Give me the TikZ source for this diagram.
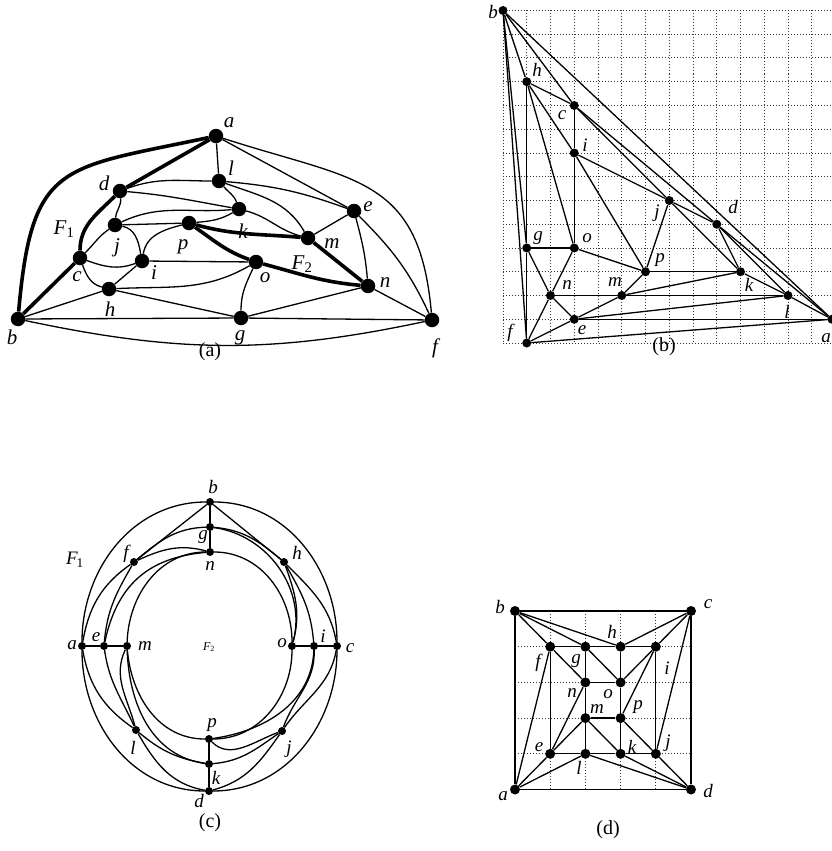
\documentclass[tikz,border=0pt]{standalone}
\usepackage{fontspec}
\setmainfont{Liberation Serif}
\begin{document}
\begin{tikzpicture}[x=1pt,y=1pt,
  bigdot/.style={circle,fill=black,inner sep=0pt,minimum size=14.5pt},
  dotb/.style={circle,fill=black,inner sep=0pt,minimum size=9pt},
  dotc/.style={circle,fill=black,inner sep=0pt,minimum size=8pt},
  dotd/.style={circle,fill=black,inner sep=0pt,minimum size=10pt},
  lbl/.style={font=\fontsize{19}{19}\selectfont\itshape,inner sep=0pt},
  biglbl/.style={font=\fontsize{21}{21}\selectfont\itshape,inner sep=0pt},
  smalllbl/.style={font=\fontsize{12}{12}\selectfont\itshape,inner sep=0pt},
  captext/.style={font=\fontsize{20}{20}\selectfont,inner sep=0pt},
  plainedge/.style={line width=1.3pt},
  thickedge/.style={line width=3.6pt},
  gridline/.style={dotted,line width=1pt,black!80}
]
\useasboundingbox (0,0) rectangle (832,-851);

%%%%%%%%%%%%%%%% panel (a)
\node[bigdot] (Aa) at (216,-136) {};
\node[bigdot] (Al) at (219,-181) {};
\node[bigdot] (Ad) at (120,-191) {};
\node[bigdot] (Ak) at (239,-209) {};
\node[bigdot] (Ae) at (354,-211) {};
\node[bigdot] (Aj) at (115,-225) {};
\node[bigdot] (Ap) at (189,-223) {};
\node[bigdot] (Am) at (308,-238) {};
\node[bigdot] (Ac) at (80,-258) {};
\node[bigdot] (Ai) at (142,-261) {};
\node[bigdot] (Ao) at (256,-262) {};
\node[bigdot] (Ah) at (109,-289) {};
\node[bigdot] (An) at (368,-286) {};
\node[bigdot] (Ab) at (18,-319) {};
\node[bigdot] (Ag) at (241,-318) {};
\node[bigdot] (Af) at (432,-320) {};

\draw[thickedge] (Aa) to[out=192,in=85,looseness=1.5] (Ab);
\draw[thickedge] (Aa) -- (Ad);
\draw[thickedge] (Ad) to[out=225,in=90] (Ac);
\draw[thickedge] (Ac) -- (Ab);
\draw[thickedge] (Ap) to[out=-15,in=175] (Am);
\draw[thickedge] (Am) -- (An);
\draw[thickedge] (Ap) to[out=-35,in=160] (Ao);
\draw[thickedge] (Ao) to[out=-15,in=175] (An);

\draw[plainedge] (Aa) -- (Al);
\draw[plainedge] (Aa) -- (Ae);
\draw[plainedge] (Aa) to[out=-18,in=95,looseness=1.3] (Af);
\draw[plainedge] (Ad) to[out=20,in=180] (Al);
\draw[plainedge] (Ad) to[out=-5,in=170] (Ak);
\draw[plainedge] (Ad) to[out=-85,in=85] (Aj);
\draw[plainedge] (Aj) to[out=25,in=185] (Ak);
\draw[plainedge] (Ap) to[out=5,in=210] (Ak);
\draw[plainedge] (Aj) -- (Ap);
\draw[plainedge] (Al) to[out=-50,in=110] (Ak);
\draw[plainedge] (Al) to[out=-5,in=160] (Ae);
\draw[plainedge] (Al) to[out=-20,in=120] (Am);
\draw[plainedge] (Ak) to[out=-15,in=165] (Am);
\draw[plainedge] (Am) -- (Ae);
\draw[plainedge] (Ae) to[out=-75,in=95] (An);
\draw[plainedge] (Ae) to[out=-45,in=115] (Af);
\draw[plainedge] (Ai) -- (Ao);
\draw[plainedge] (Ai) to[out=80,in=195] (Ap);
\draw[plainedge] (Ah) -- (Ai);
\draw[plainedge] (Ac) to[out=-20,in=200] (Ai);
\draw[plainedge] (Ac) to[out=45,in=215] (Aj);
\draw[plainedge] (Ac) to[out=-70,in=165] (Ah);
\draw[plainedge] (Aj) to[out=-10,in=100] (Ai);
\draw[plainedge] (Ah) to[out=3,in=210] (Ao);
\draw[plainedge] (Ah) -- (Ag);
\draw[plainedge] (Ah) -- (Ab);
\draw[plainedge] (Ao) to[out=-115,in=90] (Ag);
\draw[plainedge] (Ag) -- (An);
\draw[plainedge] (An) -- (Af);
\draw[plainedge] (Ag) -- (Af);
\draw[plainedge] (Ab) -- (Ag);
\draw[plainedge] (Ab) to[out=-12,in=192] (Af);

\node[biglbl] (LAa) at (229,-123) {a};
\node[biglbl] (LAl) at (231,-168) {l};
\node[biglbl] (LAd) at (104,-183) {d};
\node[biglbl] (LAe) at (368,-207) {e};
\node[biglbl] (LAk) at (243,-231) {k};
\node[biglbl] (LAj) at (117,-248) {j};
\node[biglbl] (LAp) at (183,-247) {p};
\node[biglbl] (LAm) at (332,-244) {m};
\node[biglbl] (LAc) at (77,-277) {c};
\node[biglbl] (LAi) at (154,-273) {i};
\node[biglbl] (LAo) at (265,-278) {o};
\node[biglbl] (LAh) at (110,-309) {h};
\node[biglbl] (LAn) at (385,-283) {n};
\node[biglbl] (LAb) at (12,-337) {b};
\node[biglbl] (LAg) at (240,-338) {g};
\node[biglbl] (LAf) at (435,-348) {f};
\node[biglbl] (LAF1) at (64,-229) {F\textup{\textsubscript{1}}};
\node[biglbl] (LAF2) at (302,-264) {F\textup{\textsubscript{2}}};
\node[captext] (CapA) at (210,-352) {(a)};

%%%%%%%%%%%%%%%% panel (b)
\foreach \i in {0,...,14} {
  \draw[gridline] ({503+23.75*\i},-10.5) -- ({503+23.75*\i},-343);
  \draw[gridline] (503,{-10.5-23.75*\i}) -- (836,{-10.5-23.75*\i});
}
\node[dotb] (Bb) at ({503+23.75*0},{-10.5-23.75*0}) {};
\node[dotb] (Bh) at ({503+23.75*1},{-10.5-23.75*3}) {};
\node[dotb] (Bc) at ({503+23.75*3},{-10.5-23.75*4}) {};
\node[dotb] (Bi) at ({503+23.75*3},{-10.5-23.75*6}) {};
\node[dotb] (Bj) at ({503+23.75*7},{-10.5-23.75*8}) {};
\node[dotb] (Bd) at ({503+23.75*9},{-10.5-23.75*9}) {};
\node[dotb] (Bg) at ({503+23.75*1},{-10.5-23.75*10}) {};
\node[dotb] (Bo) at ({503+23.75*3},{-10.5-23.75*10}) {};
\node[dotb] (Bp) at ({503+23.75*6},{-10.5-23.75*11}) {};
\node[dotb] (Bk) at ({503+23.75*10},{-10.5-23.75*11}) {};
\node[dotb] (Bn) at ({503+23.75*2},{-10.5-23.75*12}) {};
\node[dotb] (Bm) at ({503+23.75*5},{-10.5-23.75*12}) {};
\node[dotb] (Bl) at ({503+23.75*12},{-10.5-23.75*12}) {};
\node[dotb] (Be) at ({503+23.75*3},{-10.5-23.75*13}) {};
\node[dotb] (Ba) at (832,{-10.5-23.75*13}) {};
\node[dotb] (Bf) at ({503+23.75*1},{-10.5-23.75*14}) {};

\foreach \u/\v in {Bb/Ba,Bb/Bh,Bb/Bc,Bb/Bg,Bb/Bf,
  Ba/Bd,Ba/Bl,Ba/Be,Ba/Bf,
  Bd/Bc,Bd/Bl,Bd/Bk,Bd/Bj,
  Bl/Bk,Bl/Be,Bl/Bm,
  Bk/Bj,Bk/Bp,Bk/Bm,
  Be/Bm,Be/Bn,Be/Bf,
  Bj/Bp,Bj/Bc,Bj/Bi,
  Bp/Bm,Bp/Bo,Bp/Bi,
  Bm/Bn,Bc/Bi,Bc/Bh,Bi/Bo,Bi/Bh,
  Bo/Bn,Bo/Bh,Bo/Bg,Bh/Bg,Bn/Bg,Bn/Bf,Bg/Bf}
  \draw[plainedge] (\u) -- (\v);

\node[lbl] (LBb) at (493,-12) {b};
\node[lbl] (LBh) at (537,-70) {h};
\node[lbl] (LBc) at (562,-115) {c};
\node[lbl] (LBi) at (585,-145) {i};
\node[lbl] (LBj) at (657,-213) {j};
\node[lbl] (LBd) at (733,-207) {d};
\node[lbl] (LBg) at (538,-238) {g};
\node[lbl] (LBo) at (587,-238) {o};
\node[lbl] (LBn) at (567,-285) {n};
\node[lbl] (LBm) at (615,-282) {m};
\node[lbl] (LBp) at (660,-260) {p};
\node[lbl] (LBk) at (749,-285) {k};
\node[lbl] (LBl) at (787,-312) {l};
\node[lbl] (LBe) at (582,-330) {e};
\node[lbl] (LBf) at (510,-333) {f};
\node[lbl] (LBa) at (826,-338) {a};
\node[captext] (CapB) at (664,-347) {(b)};

%%%%%%%%%%%%%%%% panel (c)
\node[dotc] (Cb) at (210,-502) {};
\node[dotc] (Cg) at (210,-527) {};
\node[dotc] (Cn) at (210,-552) {};
\node[dotc] (Cf) at (134,-562) {};
\node[dotc] (Ch) at (284,-562) {};
\node[dotc] (Ca) at (82,-646) {};
\node[dotc] (Ce) at (104,-646) {};
\node[dotc] (Cm) at (127,-646) {};
\node[dotc] (Co) at (292,-646) {};
\node[dotc] (Ci) at (314,-646) {};
\node[dotc] (Cc) at (337,-646) {};
\node[dotc] (Cl) at (136,-730) {};
\node[dotc] (Cj) at (282,-731) {};
\node[dotc] (Cp) at (209,-739) {};
\node[dotc] (Ck) at (209,-764) {};
\node[dotc] (Cd) at (209,-791) {};

\draw[plainedge] (Ca) to[out=90,in=180] (Cb);
\draw[plainedge] (Cb) to[out=0,in=90] (Cc);
\draw[plainedge] (Cc) to[out=-90,in=0] (Cd);
\draw[plainedge] (Cd) to[out=180,in=-90] (Ca);
\foreach \u/\v in {Cb/Cg,Cg/Cn,Ca/Ce,Ce/Cm,Co/Ci,Ci/Cc,Cp/Ck,Ck/Cd,Cf/Cb,Ch/Cb}
  \draw[plainedge] (\u) -- (\v);
% top left
\draw[plainedge] (Ca) to[out=80,in=215] (Cf);
\draw[plainedge] (Ce) to[out=85,in=240] (Cf);
\draw[plainedge] (Ce) to[out=78,in=185,looseness=1.1] (Cn);
\draw[plainedge] (Cm) to[out=88,in=180] (Cn);
\draw[plainedge] (Cf) to[out=40,in=182] (Cg);
\draw[plainedge] (Cf) to[out=25,in=165] (Cn);
% top right
\draw[plainedge] (Cg) to[out=-5,in=140] (Ch);
\draw[plainedge] (Cg) to[out=-8,in=75] (Co);
\draw[plainedge] (Cn) to[out=0,in=90] (Co);
\draw[plainedge] (Ch) to[out=-70,in=75] (Co);
\draw[plainedge] (Ch) to[out=-60,in=95] (Ci);
\draw[plainedge] (Ch) to[out=-45,in=100] (Cc);
% bottom right
\draw[plainedge] (Co) to[out=-90,in=0] (Cp);
\draw[plainedge] (Ci) to[out=-92,in=8] (Cp);
\draw[plainedge] (Cp) to[out=-45,in=200] (Cj);
\draw[plainedge] (Ci) to[out=-88,in=70] (Cj);
\draw[plainedge] (Cc) to[out=-100,in=55] (Cj);
\draw[plainedge] (Cj) to[out=-145,in=5] (Ck);
\draw[plainedge] (Cj) to[out=-125,in=15] (Cd);
% bottom left
\draw[plainedge] (Ca) to[out=-80,in=145] (Cl);
\draw[plainedge] (Ce) to[out=-82,in=115] (Cl);
\draw[plainedge] (Cm) to[out=-115,in=105] (Cl);
\draw[plainedge] (Cm) to[out=-88,in=172] (Ck);
\draw[plainedge] (Cm) to[out=-85,in=180] (Cp);
\draw[plainedge] (Cl) to[out=-40,in=170] (Ck);
\draw[plainedge] (Cl) to[out=-60,in=170] (Cd);

\node[lbl] (LCb) at (213,-487) {b};
\node[lbl] (LCg) at (203,-537) {g};
\node[lbl] (LCn) at (210,-566) {n};
\node[lbl] (LCf) at (126,-554) {f};
\node[lbl] (LCF1) at (75,-560) {F\kern-1pt\textup{\textsubscript{1}}};
\node[lbl] (LCh) at (297,-553) {h};
\node[lbl] (LCa) at (72,-645) {a};
\node[lbl] (LCe) at (96,-637) {e};
\node[lbl] (LCm) at (145,-646) {m};
\node[smalllbl] (LCF2) at (209,-647) {F\textup{\textsubscript{2}}};
\node[lbl] (LCo) at (282,-643) {o};
\node[lbl] (LCi) at (323,-636) {i};
\node[lbl] (LCc) at (350,-648) {c};
\node[lbl] (LCl) at (133,-748) {l};
\node[lbl] (LCp) at (212,-725) {p};
\node[lbl] (LCj) at (289,-749) {j};
\node[lbl] (LCk) at (216,-778) {k};
\node[lbl] (LCd) at (199,-801) {d};
\node[captext] (CapC) at (210,-823) {(c)};

%%%%%%%%%%%%%%%% panel (d)
\foreach \i in {1,...,4} {
  \draw[gridline] ({515+35.2*\i},-611) -- ({515+35.2*\i},-789.5);
  \draw[gridline] (515,{-611-35.7*\i}) -- (691,{-611-35.7*\i});
}
\node[dotd] (Db) at ({515+35.2*0},{-611-35.7*0}) {};
\node[dotd] (Dc) at ({515+35.2*5},{-611-35.7*0}) {};
\node[dotd] (Da) at ({515+35.2*0},{-611-35.7*5}) {};
\node[dotd] (Dd) at ({515+35.2*5},{-611-35.7*5}) {};
\node[dotd] (Df) at ({515+35.2*1},{-611-35.7*1}) {};
\node[dotd] (Dg) at ({515+35.2*2},{-611-35.7*1}) {};
\node[dotd] (Dh) at ({515+35.2*3},{-611-35.7*1}) {};
\node[dotd] (Di) at ({515+35.2*4},{-611-35.7*1}) {};
\node[dotd] (Dn) at ({515+35.2*2},{-611-35.7*2}) {};
\node[dotd] (Do) at ({515+35.2*3},{-611-35.7*2}) {};
\node[dotd] (Dm) at ({515+35.2*2},{-611-35.7*3}) {};
\node[dotd] (Dp) at ({515+35.2*3},{-611-35.7*3}) {};
\node[dotd] (De) at ({515+35.2*1},{-611-35.7*4}) {};
\node[dotd] (Dl) at ({515+35.2*2},{-611-35.7*4}) {};
\node[dotd] (Dk) at ({515+35.2*3},{-611-35.7*4}) {};
\node[dotd] (Dj) at ({515+35.2*4},{-611-35.7*4}) {};

\foreach \u/\v in {Db/Dc,Db/Da,Dc/Dd,Da/Dd,
  Db/Df,Db/Dg,Db/Dh,Dc/Dh,Dc/Di,Dc/Dj,
  Da/Df,Da/De,Da/Dl,Dd/Dl,Dd/Dk,Dd/Dj,
  Df/Dg,Dg/Dh,Dh/Di,De/Dl,Dl/Dk,Dk/Dj,
  Df/De,Di/Dj,Dg/Dn,Dn/Dm,Dm/Dl,Dh/Do,Do/Dp,Dp/Dk,
  Dn/Do,Dm/Dp,Df/Dn,Dg/Do,Dn/De,Dm/De,Dm/Dk,Dp/Dj,Di/Do,Di/Dp}
  \draw[plainedge] (\u) -- (\v);

\node[lbl] (LDb) at (500,-607) {b};
\node[lbl] (LDc) at (708,-604) {c};
\node[lbl] (LDf) at (538,-663) {f};
\node[lbl] (LDg) at (576,-661) {g};
\node[lbl] (LDh) at (612,-632) {h};
\node[lbl] (LDn) at (572,-693) {n};
\node[lbl] (LDo) at (608,-694) {o};
\node[lbl] (LDm) at (597,-709) {m};
\node[lbl] (LDp) at (638,-707) {p};
\node[lbl] (LDi) at (667,-668) {i};
\node[lbl] (LDj) at (668,-743) {j};
\node[lbl] (LDk) at (632,-747) {k};
\node[lbl] (LDl) at (579,-768) {l};
\node[lbl] (LDe) at (539,-747) {e};
\node[lbl] (LDa) at (503,-796) {a};
\node[lbl] (LDd) at (708,-791) {d};
\node[captext] (CapD) at (608,-830) {(d)};
\end{tikzpicture}
\end{document}
